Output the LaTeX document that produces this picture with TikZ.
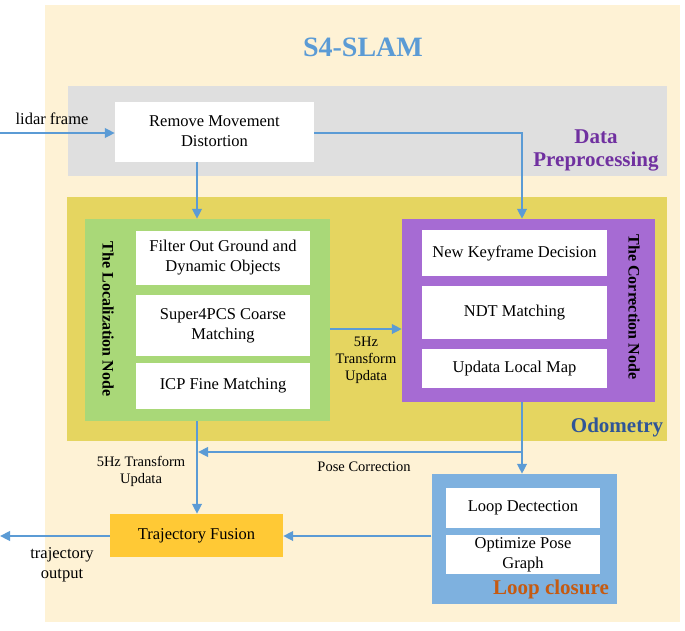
\documentclass[tikz,border=0pt]{standalone}
\usepackage{fontspec}
\setmainfont{Liberation Serif}
\usetikzlibrary{arrows.meta,positioning,calc}
\definecolor{cream}{HTML}{FEF2D5}
\definecolor{greybg}{HTML}{DFDFDF}
\definecolor{odoyel}{HTML}{E5D560}
\definecolor{locgreen}{HTML}{A9D878}
\definecolor{corpurp}{HTML}{A66BD3}
\definecolor{loopblue}{HTML}{7EB1DF}
\definecolor{tfgold}{HTML}{FFC935}
\definecolor{arrowblue}{HTML}{5B9BD5}
\definecolor{titleblue}{HTML}{5B9BD5}
\definecolor{dppurp}{HTML}{7030A0}
\definecolor{ododark}{HTML}{2F5597}
\definecolor{looporange}{HTML}{C55A11}
\tikzset{
  wbox/.style={fill=white, draw=none, align=center, inner sep=0pt,
    font=\fontsize{16.5}{20}\selectfont},
  txt/.style={align=center, inner sep=0pt, font=\fontsize{16.5}{20}\selectfont},
  smalltxt/.style={align=center, inner sep=0pt, font=\fontsize{14.5}{17}\selectfont},
  arr/.style={draw=arrowblue, line width=2.3pt, -{Triangle[length=10pt,width=9.5pt]}},
  grouplabel/.style={align=center, inner sep=0pt, font=\bfseries\fontsize{21}{25}\selectfont},
  vlabel/.style={align=center, inner sep=0pt, rotate=-90, font=\bfseries\fontsize{16}{19}\selectfont},
}
\begin{document}
\begin{tikzpicture}[x=1pt,y=-1pt]
\useasboundingbox (0,0) rectangle (685,630);
% backgrounds
\fill[cream] (45,5) rectangle (680,622);
\fill[greybg] (68,86) rectangle (667,176);
\fill[odoyel] (67,197) rectangle (667,441);
\node[fill=locgreen, minimum width=245pt, minimum height=202pt, inner sep=0pt] (loc) at (207.5,320) {};
\node[fill=corpurp, minimum width=253pt, minimum height=183pt, inner sep=0pt] (cor) at (528.5,310.5) {};
\node[fill=loopblue, minimum width=185pt, minimum height=130pt, inner sep=0pt] (loopbox) at (524,539) {};

% title and group labels
\node[inner sep=0pt, text=titleblue, font=\bfseries\fontsize{28}{30}\selectfont] (title) at (363,47) {S4-SLAM};
\node[grouplabel, text=dppurp] (dp1) at (596,137) {Data};
\node[grouplabel, text=dppurp] (dp2) at (596,162) {Preprocessing};
\node[grouplabel, text=ododark] (odo) at (617,427) {Odometry};
\node[grouplabel, text=looporange] (lcl) at (551,589) {Loop closure};
\node[vlabel] (locl) at (108,319) {The Localization Node};
\node[vlabel] (corl) at (634,307) {The Correction Node};

% boxes
\node[wbox, minimum width=199pt, minimum height=60pt] (rmd) at (214.5,131.5) {Remove Movement\\Distortion};
\node[wbox, minimum width=174pt, minimum height=54pt] (flt) at (223,257.5) {Filter Out Ground and\\Dynamic Objects};
\node[wbox, minimum width=174pt, minimum height=61pt] (s4p) at (223,325.5) {Super4PCS Coarse\\Matching};
\node[wbox, minimum width=174pt, minimum height=46pt] (icp) at (223,386) {ICP Fine Matching};
\node[wbox, minimum width=185pt, minimum height=46pt] (nkd) at (514.5,253) {New Keyframe Decision};
\node[wbox, minimum width=185pt, minimum height=53pt] (ndt) at (514.5,312.5) {NDT Matching};
\node[wbox, minimum width=185pt, minimum height=39pt] (ulm) at (514.5,368.5) {Updata Local Map};
\node[wbox, minimum width=154pt, minimum height=40pt] (ld) at (523,508) {Loop Dectection};
\node[wbox, minimum width=154pt, minimum height=39pt] (opg) at (523,554.5) {Optimize Pose\\Graph};
\node[wbox, fill=tfgold, minimum width=173pt, minimum height=43pt] (tf) at (196.5,535.5) {Trajectory Fusion};

% free texts
\node[txt] (lidar) at (52,119) {lidar frame};
\node[smalltxt] (hz1) at (366,360) {5Hz\\Transform\\Updata};
\node[smalltxt] (pc) at (364,467) {Pose Correction};
\node[smalltxt] (hz2) at (141,471.5) {5Hz Transform\\Updata};
\node[txt] (tout) at (62,565) {trajectory\\output};

% helper coordinates
\coordinate (lx) at (197,0);
\coordinate (rx) at (522,0);
\coordinate (lin) at (0,133);
\coordinate (pcy) at (0,452);
\coordinate (ly) at (0,536);
\coordinate (outx) at (0,0);
\coordinate (my) at (0,329);

% connectors
\draw[arr] (lin) -- (rmd.west |- lin);
\draw[arr] (rmd.south -| lx) -- (loc.north -| lx);
\draw[arr] (rmd.east |- lin) -| (cor.north -| rx);
\draw[arr] (loc.east |- my) -- (cor.west |- my);
\draw[arr] (loc.south -| lx) -- (tf.north -| lx);
\draw[arr] (cor.south -| rx) -- (loopbox.north -| rx);
\draw[arr] (rx |- pcy) -- ([xshift=1pt]lx |- pcy);
\draw[arr] (loopbox.west |- ly) -- (tf.east |- ly);
\draw[arr] (tf.west |- ly) -- (outx |- ly);
\end{tikzpicture}
\end{document}
